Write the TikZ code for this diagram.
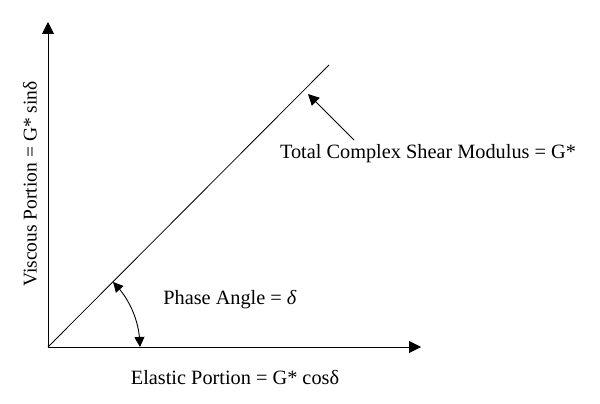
\documentclass[tikz,border=0pt]{standalone}
\usepackage{fontspec}
\setmainfont{Liberation Serif}
\usetikzlibrary{arrows.meta,bending,calc}
\begin{document}
\begin{tikzpicture}[x=1pt,y=-1pt,
  axis/.style={line width=1pt,-{Triangle[length=12pt,width=12pt]}},
  thin line/.style={line width=0.8pt},
  ptr/.style={line width=0.9pt,-{Triangle[length=11pt,width=11pt]}},
  angarrow/.style={line width=0.9pt,{Triangle[length=10pt,width=10pt,flex]}-{Triangle[length=10pt,width=10pt,flex]}},
  lbl/.style={inner sep=0pt,font=\fontsize{20.3}{24}\selectfont}]
\useasboundingbox (0,0) rectangle (600,404);
\coordinate (O) at (48,347);
\coordinate (Ytop) at (48,22);
\coordinate (Xend) at (421,347);
\coordinate (D) at (329,65);
\coordinate (tA) at (354,140);
\coordinate (tB) at (308,94);
\draw[axis] (O) -- (Ytop);
\draw[axis] (O) -- (Xend);
\draw[thin line] (O) -- (D);
\draw[ptr] (tA) -- (tB);
\draw[angarrow] ($(O)+(65.05,-65.05)$) arc[start angle=-45,end angle=0,radius=92];
\node[lbl,rotate=90,font=\fontsize{19.5}{24}\selectfont] (ylab) at (30,184) {Viscous Portion = G* sin\textup{δ}};
\node[lbl] (xlab) at (235,378) {Elastic Portion = G* cos\textup{δ}};
\node[lbl] (phase) at (230,300) {Phase Angle = \textit{δ}};
\node[lbl] (total) at (428,154) {Total Complex Shear Modulus = G*};
\end{tikzpicture}
\end{document}
